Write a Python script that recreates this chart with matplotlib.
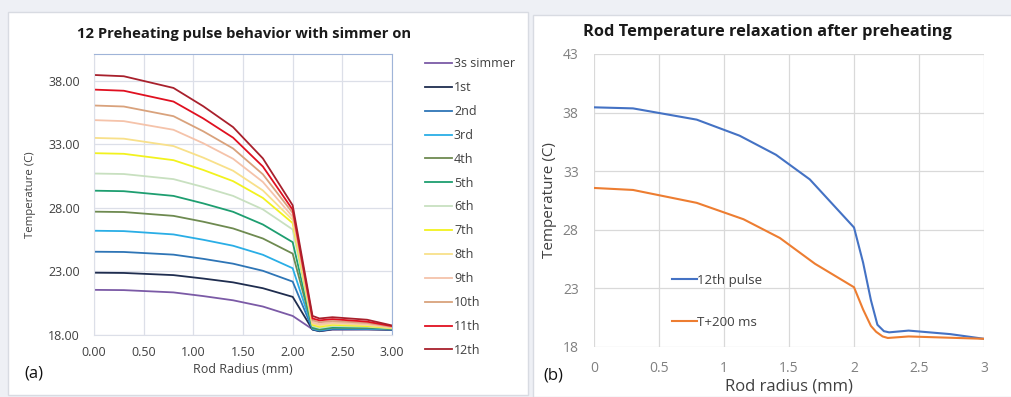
import matplotlib
matplotlib.use('Agg')
import matplotlib.pyplot as plt
from matplotlib.patches import Rectangle

plt.rcParams['font.family'] = ['Open Sans', 'DejaVu Sans']

# ---- panel (a): 12 preheating pulses ----
radius_a = [0, 0.3, 0.8, 1.1, 1.4, 1.7, 2.0, 2.2, 2.27, 2.4, 2.75, 3.0]

pulse_labels = ['3s simmer', '1st', '2nd', '3rd', '4th', '5th', '6th',
                '7th', '8th', '9th', '10th', '11th', '12th']
pulse_colors = ['#7b5aa6', '#1f2d4f', '#2e75b6', '#2aaee6', '#6e8a50', '#1e9e70',
                '#c8e0c0', '#f2f21e', '#f8e08a', '#f5c3aa', '#d9a27c', '#e01020', '#a8202c']

t_simmer = [21.55, 21.53, 21.35, 21.06, 20.73, 20.24, 19.5, 18.45, 18.3, 18.42, 18.43, 18.4]
t_1st = [22.9, 22.88, 22.71, 22.44, 22.14, 21.68, 21.0, 18.42, 18.3, 18.45, 18.45, 18.42]
t_2nd = [24.55, 24.53, 24.32, 23.99, 23.61, 23.05, 22.2, 18.45, 18.33, 18.48, 18.47, 18.43]
t_3rd = [26.2, 26.17, 25.91, 25.49, 25.02, 24.31, 23.25, 18.5, 18.38, 18.52, 18.5, 18.45]
t_4th = [27.7, 27.67, 27.37, 26.91, 26.38, 25.59, 24.4, 18.55, 18.42, 18.57, 18.55, 18.48]
t_5th = [29.35, 29.31, 28.94, 28.35, 27.69, 26.69, 25.3, 18.6, 18.48, 18.62, 18.6, 18.5]
t_6th = [30.7, 30.66, 30.26, 29.64, 28.94, 27.88, 26.3, 18.7, 18.55, 18.7, 18.65, 18.52]
t_7th = [32.3, 32.25, 31.75, 30.98, 30.1, 28.78, 26.8, 18.8, 18.65, 18.8, 18.7, 18.55]
t_8th = [33.5, 33.44, 32.86, 31.95, 30.92, 29.37, 27.05, 18.9, 18.75, 18.88, 18.78, 18.57]
t_9th = [34.9, 34.82, 34.14, 33.08, 31.86, 30.04, 27.3, 19.0, 18.85, 18.98, 18.85, 18.6]
t_10th = [36.05, 35.97, 35.21, 34.02, 32.67, 30.64, 27.6, 19.15, 19.0, 19.1, 18.95, 18.65]
t_11th = [37.3, 37.21, 36.36, 35.03, 33.52, 31.25, 27.85, 19.3, 19.15, 19.25, 19.05, 18.7]
t_12th = [38.45, 38.35, 37.43, 35.99, 34.35, 31.89, 28.2, 19.5, 19.3, 19.4, 19.2, 18.75]

pulses = [t_simmer, t_1st, t_2nd, t_3rd, t_4th, t_5th, t_6th,
          t_7th, t_8th, t_9th, t_10th, t_11th, t_12th]

# ---- panel (b): relaxation ----
radius_pulse = [0, 0.3, 0.79, 1.12, 1.4, 1.66, 2.0, 2.07, 2.13, 2.18, 2.23, 2.27, 2.42, 2.74, 3.0]
temp_pulse = [38.45, 38.36, 37.4, 36.03, 34.4, 32.3, 28.2, 25.2, 22.0, 19.9, 19.35, 19.25, 19.4, 19.1, 18.7]
radius_relax = [0, 0.3, 0.79, 1.15, 1.43, 1.7, 2.0, 2.07, 2.13, 2.17, 2.22, 2.26, 2.42, 3.0]
temp_relax = [31.57, 31.4, 30.3, 28.9, 27.3, 25.1, 23.1, 21.2, 19.8, 19.3, 18.9, 18.77, 18.9, 18.7]

fig = plt.figure(figsize=(10.12, 3.97), dpi=100, facecolor='#eef0f5')

# white panel cards (behind the axes)
fig.patches.append(Rectangle((8 / 1012, 2 / 397), 520 / 1012, 383 / 397, transform=fig.transFigure,
                             facecolor='white', edgecolor='#d8dbe2', lw=1, zorder=-5))
fig.patches.append(Rectangle((533 / 1012, 0), 479 / 1012, 382 / 397, transform=fig.transFigure,
                             facecolor='white', edgecolor='#d8dbe2', lw=1, zorder=-5))

# panel (a)
ax1 = fig.add_axes([94 / 1012, 62 / 397, 298 / 1012, 281 / 397])
ax1.patch.set_alpha(0)
lines = []
for temps, lab, col in zip(pulses, pulse_labels, pulse_colors):
    ln, = ax1.plot(radius_a, temps, color=col, lw=1.3, label=lab)
    lines.append(ln)
ax1.set_xlim(0, 3)
ax1.set_ylim(18, 40.1)
ax1.set_xticks([0, 0.5, 1, 1.5, 2, 2.5, 3])
ax1.set_yticks([18, 23, 28, 33, 38])
ax1.xaxis.set_major_formatter(matplotlib.ticker.FormatStrFormatter('%.2f'))
ax1.yaxis.set_major_formatter(matplotlib.ticker.FormatStrFormatter('%.2f'))
ax1.grid(True, color='#dcdfe8', lw=0.9)
ax1.set_axisbelow(True)
ax1.tick_params(axis='y', length=0, labelsize=9, colors='#404040', pad=10)
ax1.tick_params(axis='x', length=0, labelsize=9, colors='#404040', pad=8)
for s in ['top', 'right']:
    ax1.spines[s].set_color('#9fb4d8')
for s in ['left', 'bottom']:
    ax1.spines[s].set_color('#dcdfe8')
ax1.set_xlabel('Rod Radius (mm)', fontsize=9, color='#404040', labelpad=3)
ax1.set_ylabel('Temperature (C)', fontsize=8.2, color='#404040', labelpad=9)
fig.text(244 / 1012, 1 - 34 / 397, '12 Preheating pulse behavior with simmer on',
         ha='center', va='center', fontsize=10.6, fontweight='bold', color='#1a1a1a')
fig.text(24 / 1012, 1 - 373 / 397, '(a)', ha='left', va='center', fontsize=12, color='#111111')

fig.legend(handles=lines, loc='upper left', bbox_to_anchor=(414 / 1012, 1 - 46 / 397),
           frameon=False, fontsize=9, labelspacing=0.87, handlelength=2.1, handletextpad=0.2,
           labelcolor='#404040')

# panel (b)
ax2 = fig.add_axes([594 / 1012, 50 / 397, 390 / 1012, 293 / 397])
ax2.patch.set_alpha(0)
ax2.plot(radius_pulse, temp_pulse, color='#4472c4', lw=1.5, label='12th pulse')
ax2.plot(radius_relax, temp_relax, color='#ed7d31', lw=1.5, label='T+200 ms')
ax2.set_xlim(0, 3)
ax2.set_ylim(18, 43)
ax2.set_xticks([0, 0.5, 1, 1.5, 2, 2.5, 3])
ax2.set_xticklabels(['0', '0.5', '1', '1.5', '2', '2.5', '3'])
ax2.set_yticks([18, 23, 28, 33, 38, 43])
ax2.grid(True, color='#d9d9d9', lw=0.9)
ax2.set_axisbelow(True)
for s in ax2.spines.values():
    s.set_visible(False)
ax2.tick_params(axis='y', length=0, labelsize=10, colors='#808080', pad=11)
ax2.tick_params(axis='x', length=0, labelsize=10, colors='#808080', pad=10)
ax2.set_xlabel('Rod radius (mm)', fontsize=12, color='#404040', labelpad=2)
ax2.set_ylabel('Temperature (C)', fontsize=11, color='#404040', labelpad=4)
fig.text(767 / 1012, 1 - 32 / 397, 'Rod Temperature relaxation after preheating',
         ha='center', va='center', fontsize=11.8, fontweight='bold', color='#1a1a1a')
fig.text(543 / 1012, 1 - 375 / 397, '(b)', ha='left', va='center', fontsize=12, color='#111111')
ax2.legend(loc='upper left', bbox_to_anchor=(0.17, 0.29), frameon=False, fontsize=9.5,
           labelspacing=2.2, handlelength=1.85, handletextpad=0.05, labelcolor='#404040')

fig.savefig('out.png', dpi=100, facecolor=fig.get_facecolor())
